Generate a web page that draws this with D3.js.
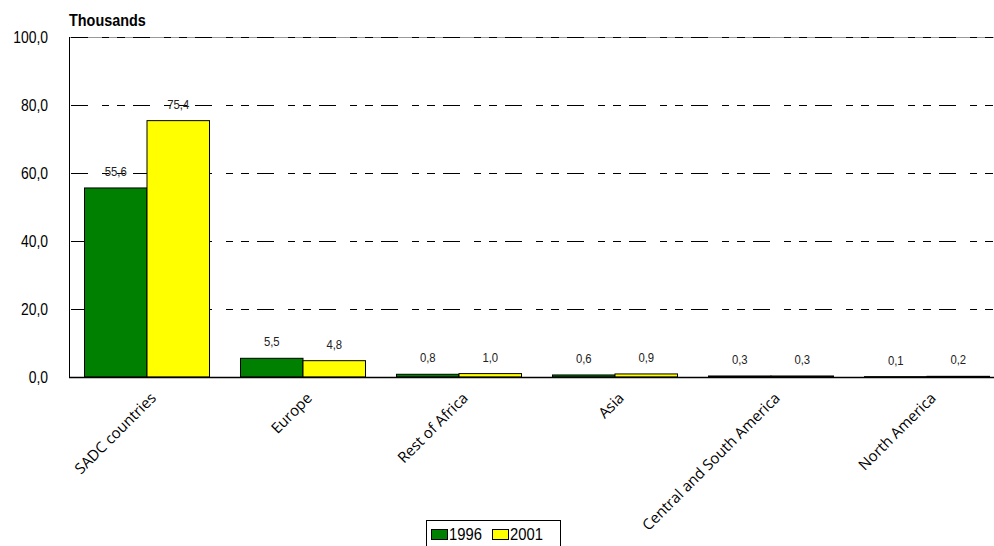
<!DOCTYPE html>
<html><head><meta charset="utf-8">
<script src="https://cdn.jsdelivr.net/npm/d3@7"></script>
<style>
body{margin:0;background:#fff;}
</style></head>
<body><svg id="chart" width="994" height="546" font-family='"Liberation Sans",Arial,sans-serif'></svg>
<script>
const categories = ["SADC countries","Europe","Rest of Africa","Asia","Central and South America","North America"];
const seriesNames = ["1996","2001"];
const values1996 = [55.6,5.5,0.8,0.6,0.3,0.1];
const values2001 = [75.4,4.8,1.0,0.9,0.3,0.2];
const yTicks = [0,20,40,60,80,100];
const colors = ["#008000","#ffff00"];

const svg = d3.select("#chart");
const W = 994, H = 546;
const plotLeft = 69, plotTop = 37, plotBottom = 377, step = 156;
const x = d3.scaleBand().domain(categories).range([plotLeft, plotLeft + step * categories.length]).padding(0);
const x1 = d3.scaleBand().domain(seriesNames).range([0, x.bandwidth()]).paddingInner(0).paddingOuter(0.248);
const y = d3.scaleLinear().domain([0,100]).range([plotBottom, plotTop]);
const fmt = v => d3.format(".1f")(v).replace(".", ",");
const SX = 0.87;

// gridlines
const grid = svg.append("g");
yTicks.filter(t => t > 0).forEach(t => {
  if (t === 100) {
    grid.append("line").attr("x1", plotLeft).attr("x2", W).attr("y1", y(t)+0.5).attr("y2", y(t)+0.5)
      .attr("stroke", "#999").attr("stroke-width", 1);
  }
  grid.append("line").attr("x1", plotLeft).attr("x2", W).attr("y1", y(t)+0.5).attr("y2", y(t)+0.5)
    .attr("stroke", "#000").attr("stroke-width", 1)
    .attr("stroke-dasharray", "17,14,7,8,8,8").attr("stroke-dashoffset", "-2");
});

// y axis labels (via axis, then condensed)
const yAxis = d3.axisLeft(y).tickValues(yTicks).tickSize(0).tickPadding(0).tickFormat(fmt);
const ga = svg.append("g").attr("transform", `translate(${plotLeft},0)`).call(yAxis);
ga.attr("font-family", null).attr("font-size", null);
ga.select(".domain").remove();
ga.selectAll("text").attr("font-size", 16).attr("fill", "#000")
  .attr("font-family", '"Liberation Sans",Arial,sans-serif')
  .attr("x", 0).attr("dy", "0.36em")
  .attr("transform", `translate(-21,0) scale(${SX},1)`);

const data = categories.map((c,i) => ({c, vals:[values1996[i], values2001[i]]}));

// bars
const groups = svg.append("g").selectAll("g").data(data).join("g")
  .attr("transform", d => `translate(${x(d.c)},0)`);
groups.selectAll("rect").data(d => d.vals.map((v,j) => ({v, s:seriesNames[j], j}))).join("rect")
  .attr("x", d => x1(d.s)).attr("width", x1.bandwidth())
  .attr("y", d => y(d.v)).attr("height", d => y(0) - y(d.v))
  .attr("fill", d => colors[d.j]).attr("stroke", "#000").attr("stroke-width", 1);

// value labels
groups.selectAll("text.val").data(d => d.vals.map((v,j) => ({v, s:seriesNames[j], j}))).join("text")
  .attr("class", "val")
  .attr("transform", d => `translate(${x1(d.s) + x1.bandwidth()/2},${y(d.v) - 12}) scale(${SX},1)`)
  .attr("text-anchor", "middle").attr("font-size", 13).attr("fill", "#222")
  .text(d => fmt(d.v));

// axes lines
svg.append("line").attr("x1", plotLeft+0.5).attr("x2", plotLeft+0.5).attr("y1", y(100)).attr("y2", y(0)+1)
  .attr("stroke", "#000").attr("stroke-width", 1);
svg.append("line").attr("x1", plotLeft).attr("x2", W).attr("y1", y(0)+0.5).attr("y2", y(0)+0.5)
  .attr("stroke", "#000").attr("stroke-width", 1.5);

// category labels
svg.append("g").selectAll("text").data(categories).join("text")
  .attr("transform", d => `translate(${x(d) + x.bandwidth()/2 + 10},${y(0) + 22}) rotate(-45)`)
  .attr("text-anchor", "end").attr("font-size", 15).attr("fill", "#000")
  .attr("font-family", '"Open Sans","Noto Sans",sans-serif')
  .text(d => d);

// title
svg.append("text").attr("transform", `translate(69,26) scale(0.9,1)`)
  .attr("font-size", 16).attr("font-weight", "bold")
  .attr("fill", "#000").text("Thousands");

// legend
const lg = svg.append("g").attr("transform", "translate(426,520)");
lg.append("rect").attr("x", 0.5).attr("y", 0.5).attr("width", 134).attr("height", 40)
  .attr("fill", "#fff").attr("stroke", "#000");
const items = [{n:seriesNames[0], c:colors[0], x:5}, {n:seriesNames[1], c:colors[1], x:66}];
items.forEach(it => {
  lg.append("rect").attr("x", it.x + 0.5).attr("y", 9.5).attr("width", 16).attr("height", 10)
    .attr("fill", it.c).attr("stroke", "#000");
  lg.append("text").attr("transform", `translate(${it.x + 18},20) scale(${SX},1)`)
    .attr("font-size", 17).attr("fill", "#000").text(it.n);
});
</script></body></html>
